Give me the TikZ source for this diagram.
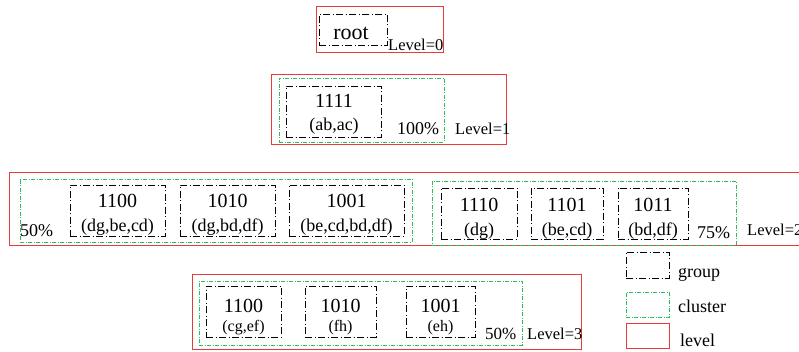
\documentclass[tikz,border=0pt]{standalone}
\usepackage{fontspec}
\setmainfont{Liberation Serif}
\usetikzlibrary{fit}
\definecolor{lvred}{RGB}{232,60,60}
\definecolor{clgreen}{RGB}{40,190,90}
\tikzset{
  groupbox/.style={draw=black, line width=0.9pt, dash pattern=on 7pt off 2.5pt on 1pt off 2.5pt, inner sep=0pt},
  clusterbox/.style={draw=clgreen, line width=0.7pt, dash pattern=on 4pt off 1.5pt on 1pt off 1.5pt, inner sep=0pt},
  levelbox/.style={draw=lvred, line width=1pt, inner sep=0pt},
  numtxt/.style={anchor=base, inner sep=0pt, font=\fontsize{20}{20}\selectfont},
  subtxt/.style={anchor=base, inner sep=0pt, font=\fontsize{18}{18}\selectfont},
  smalltxt/.style={anchor=base, inner sep=0pt, font=\fontsize{16}{16}\selectfont},
  lvtxt/.style={anchor=base west, inner sep=0pt, font=\fontsize{16.5}{16.5}\selectfont},
  pcttxt/.style={anchor=base west, inner sep=0pt, font=\fontsize{18}{18}\selectfont},
  legtxt/.style={anchor=base west, inner sep=0pt, font=\fontsize{18}{18}\selectfont},
}
\begin{document}
\begin{tikzpicture}[x=1pt,y=-1pt]
\useasboundingbox (0,0) rectangle (799,352);
% Level 0
\node[levelbox, fit={(316,7) (443,53)}] (L0) {};
\node[groupbox, fit={(319,14) (387,45)}] (g0) {};
\node[anchor=base, inner sep=0pt, font=\fontsize{22}{22}\selectfont] (t0) at (351,40) {root};
\node[lvtxt] (lv0) at (388,51) {Level=0};
% Level 1
\node[levelbox, fit={(271,75) (506,145)}] (L1) {};
\node[clusterbox, fit={(279,78) (444,142)}] (c1) {};
\node[groupbox, fit={(286,86) (381,137)}] (g1) {};
\node[numtxt] (n1) at (334,108) {1111};
\node[subtxt] (s1) at (334,131) {(ab,ac)};
\node[pcttxt] (p1) at (397,135) {100\%};
\node[lvtxt] (lv1) at (455,135) {Level=1};
% Level 2 (its right edge lies at the picture's edge)
\coordinate (L2ne) at (799,172.5);
\coordinate (L2se) at (799,245.5);
\coordinate (L2nw) at (9.5,172.5);
\draw[lvred, line width=1pt] (L2ne) -- (L2nw) |- (L2se);
\node[clusterbox, fit={(20,179) (412,242)}] (c2a) {};
\node[groupbox, fit={(70,185) (165,236)}] (g2a) {};
\node[groupbox, fit={(180,185) (275,236)}] (g2b) {};
\node[groupbox, fit={(289,185) (404,236)}] (g2c) {};
\node[numtxt] at (117.5,208) {1100};
\node[subtxt] at (117.5,232) {(dg,be,cd)};
\node[numtxt] at (227.5,208) {1010};
\node[subtxt] at (227.5,232) {(dg,bd,df)};
\node[numtxt] at (346.5,208) {1001};
\node[subtxt] at (346.5,232) {(be,cd,bd,df)};
\node[pcttxt] (p2a) at (20,237) {50\%};
\node[clusterbox, fit={(432,181) (736,245)}] (c2b) {};
\node[groupbox, fit={(441,188) (517,239)}] (g2d) {};
\node[groupbox, fit={(531,188) (603,239)}] (g2e) {};
\node[groupbox, fit={(618,188) (688,239)}] (g2f) {};
\node[numtxt] at (479,212) {1110};
\node[subtxt] at (479,236) {(dg)};
\node[numtxt] at (567,212) {1101};
\node[subtxt] at (567,236) {(be,cd)};
\node[numtxt] at (653,212) {1011};
\node[subtxt] at (653,236) {(bd,df)};
\node[pcttxt] (p2b) at (697,239) {75\%};
\node[lvtxt] (lv2) at (747,236) {Level=2};
% Level 3
\node[levelbox, fit={(192,274) (581,349)}] (L3) {};
\node[clusterbox, fit={(199,281) (522,345)}] (c3) {};
\node[groupbox, fit={(206,286) (281,337)}] (g3a) {};
\node[groupbox, fit={(305,286) (376,337)}] (g3b) {};
\node[groupbox, fit={(406,286) (475,337)}] (g3c) {};
\node[numtxt] at (243.5,312) {1100};
\node[smalltxt] at (243.5,331) {(cg,ef)};
\node[numtxt] at (340.5,312) {1010};
\node[smalltxt] at (340.5,331) {(fh)};
\node[numtxt] at (440.5,312) {1001};
\node[smalltxt] at (440.5,331) {(eh)};
\node[pcttxt, font=\fontsize{17}{17}\selectfont] (p3) at (485,339) {50\%};
\node[lvtxt] (lv3) at (527,339) {Level=3};
% Legend
\node[groupbox, fit={(626,252) (669,278)}] (leg1) {};
\node[legtxt] at (678,277) {group};
\node[clusterbox, fit={(626,292) (669,317)}] (leg2) {};
\node[legtxt] at (678,312) {cluster};
\node[levelbox, fit={(626,323) (669,348)}] (leg3) {};
\node[legtxt] at (680,346) {level};
\end{tikzpicture}
\end{document}
